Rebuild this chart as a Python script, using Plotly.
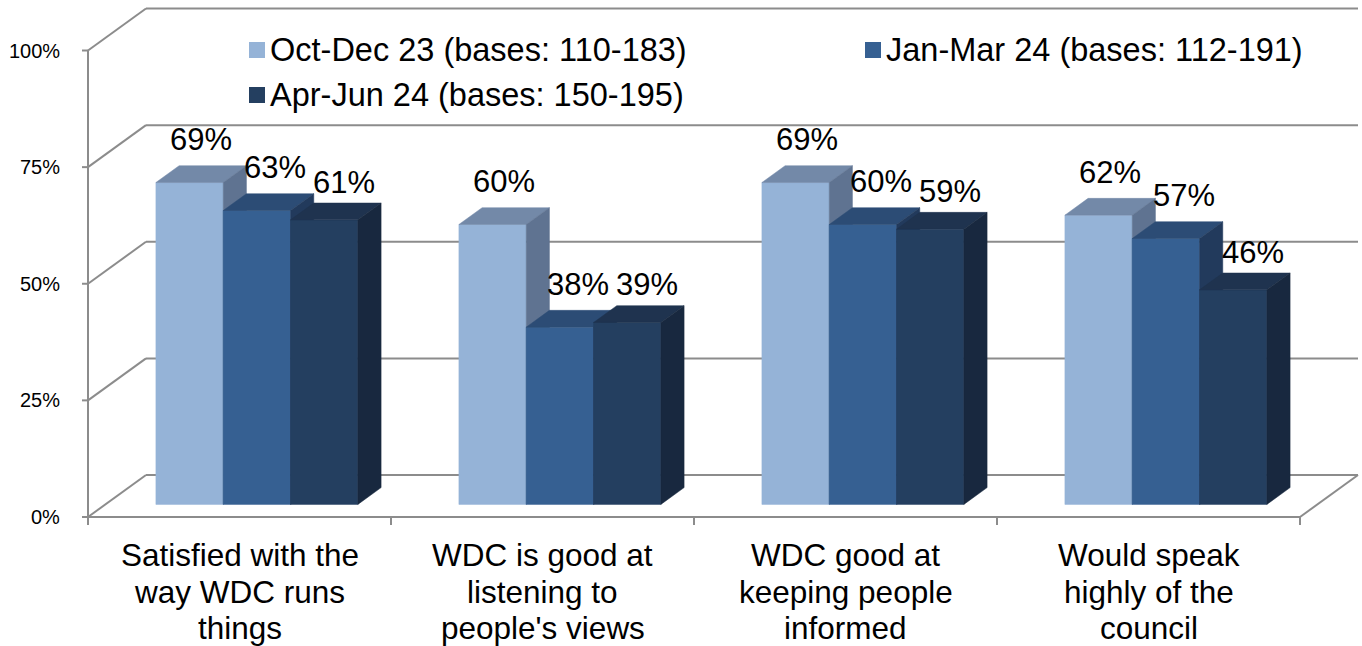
import plotly.graph_objects as go

# ---------------- data ----------------
categories = [
    "Satisfied with the\nway WDC runs\nthings",
    "WDC is good at\nlistening to\npeople's views",
    "WDC good at\nkeeping people\ninformed",
    "Would speak\nhighly of the\ncouncil",
]
series_names = [
    "Oct-Dec 23 (bases: 110-183)",
    "Jan-Mar 24 (bases: 112-191)",
    "Apr-Jun 24 (bases: 150-195)",
]
oct_dec_23 = [69, 60, 69, 62]
jan_mar_24 = [63, 38, 60, 57]
apr_jun_24 = [61, 39, 59, 46]
y_ticks = [0, 25, 50, 75, 100]
y_tick_labels = ["0%", "25%", "50%", "75%", "100%"]

series_values = [oct_dec_23, jan_mar_24, apr_jun_24]

# ---------------- styling / geometry ----------------
W, H = 1362, 646
PX = 303.0          # pixels per category unit
PY = 4.665          # pixels per percentage point
X0_PX = 88          # left front axis position (px)
Y0_PX = 517         # front 0% position (px from top)
xmin = -X0_PX / PX
xmax = xmin + W / PX
ymin = -(H - Y0_PX) / PY
ymax = ymin + H / PY

DX, DY = 58 / PX, 42 / PY          # full depth of the 3D box
BF, BB = 0.3, 0.7                  # bar front / back depth fractions
GAP = 1 / 3                        # category gap
BW = (1 - GAP) / 3                 # bar width

front_cols = ["#95B3D7", "#366092", "#243F60"]
top_cols = ["#7389A8", "#2C4C75", "#1F334F"]
side_cols = ["#5F7391", "#223A5C", "#18283F"]
grid_col = "#8C8C8C"
FONT = "Liberation Sans, Arial, sans-serif"

fig = go.Figure()

# ---------------- walls / gridlines ----------------
gx, gy = [], []
for t in y_ticks:
    gx += [DX, len(categories) + DX, None]
    gy += [t + DY, t + DY, None]
    gx += [0, DX, None]
    gy += [t, t + DY, None]
gx += [len(categories), len(categories) + DX, None]
gy += [0, DY, None]
fig.add_trace(go.Scatter(x=gx, y=gy, mode="lines", line=dict(color=grid_col, width=2),
                         hoverinfo="skip", showlegend=False))

ax, ay = [0, 0, None, 0, len(categories), None], [100, 0, None, 0, 0, None]
for t in y_ticks:
    ax += [-6 / PX, 0, None]
    ay += [t, t, None]
for c in range(len(categories) + 1):
    ax += [c, c, None]
    ay += [0, -8 / PY, None]
fig.add_trace(go.Scatter(x=ax, y=ay, mode="lines", line=dict(color=grid_col, width=2),
                         hoverinfo="skip", showlegend=False))

# ---------------- 3D bars ----------------
fx0, fy0 = BF * DX, BF * DY
bx, by = (BB - BF) * DX, (BB - BF) * DY
for s, vals in enumerate(series_values):
    front_x, front_y, top_x, top_y, side_x, side_y = [], [], [], [], [], []
    for c, v in enumerate(vals):
        x0 = c + GAP / 2 + s * BW + fx0
        x1 = x0 + BW
        yb, yt = fy0, fy0 + v
        front_x += [x0, x1, x1, x0, x0, None]
        front_y += [yb, yb, yt, yt, yb, None]
        top_x += [x0, x1, x1 + bx, x0 + bx, x0, None]
        top_y += [yt, yt, yt + by, yt + by, yt, None]
        side_x += [x1, x1 + bx, x1 + bx, x1, x1, None]
        side_y += [yb, yb + by, yt + by, yt, yb, None]
    for xs, ys, col in ((front_x, front_y, front_cols[s]),
                        (top_x, top_y, top_cols[s]),
                        (side_x, side_y, side_cols[s])):
        fig.add_trace(go.Scatter(x=xs, y=ys, mode="lines", fill="toself", fillcolor=col,
                                 line=dict(color=col, width=0.5), hoverinfo="skip",
                                 showlegend=False))

# data labels
lab_dx = [11 / PX, 18 / PX, 20 / PX]
lab_dy = [26 / PY, 26 / PY, 21 / PY]
for s, vals in enumerate(series_values):
    for c, v in enumerate(vals):
        xc = c + GAP / 2 + s * BW + fx0 + BW / 2 + lab_dx[s]
        fig.add_annotation(x=xc, y=BB * DY + v + lab_dy[s], text=f"{v}%", showarrow=False,
                           xanchor="center", yanchor="middle",
                           font=dict(family=FONT, size=31, color="black"))

# y tick labels
for t, lab in zip(y_ticks, y_tick_labels):
    fig.add_annotation(x=-26 / PX, y=t, text=lab, showarrow=False, xanchor="right",
                       yanchor="middle", font=dict(family=FONT, size=20, color="black"))

# category labels (one annotation per line for exact spacing)
for c, cat in enumerate(categories):
    for i, line in enumerate(cat.split("\n")):
        fig.add_annotation(x=c + 0.5, y=-(38 + 36.5 * i) / PY, text=line, showarrow=False,
                           xanchor="center", yanchor="middle",
                           font=dict(family=FONT, size=31.5, color="black"))

# legend (manual, to match Excel layout)
legend_pos = [(249, 50), (865, 50), (249, 95)]
for s, name in enumerate(series_names):
    lx, ly = legend_pos[s]
    fig.add_shape(type="rect", xref="paper", yref="paper",
                  x0=lx / W, x1=(lx + 16) / W, y0=1 - (ly + 8) / H, y1=1 - (ly - 8) / H,
                  fillcolor=front_cols[s], line=dict(width=0))
    fig.add_annotation(xref="paper", yref="paper", x=(lx + 19) / W, y=1 - ly / H, text=name,
                       showarrow=False, xanchor="left", yanchor="middle",
                       font=dict(family=FONT, size=32.5, color="black"))

fig.update_layout(
    width=W, height=H,
    margin=dict(l=0, r=0, t=0, b=0),
    paper_bgcolor="white", plot_bgcolor="white",
    xaxis=dict(range=[xmin, xmax], visible=False, fixedrange=True),
    yaxis=dict(range=[ymin, ymax], visible=False, fixedrange=True),
    showlegend=False,
)

fig.write_html("out.html")
